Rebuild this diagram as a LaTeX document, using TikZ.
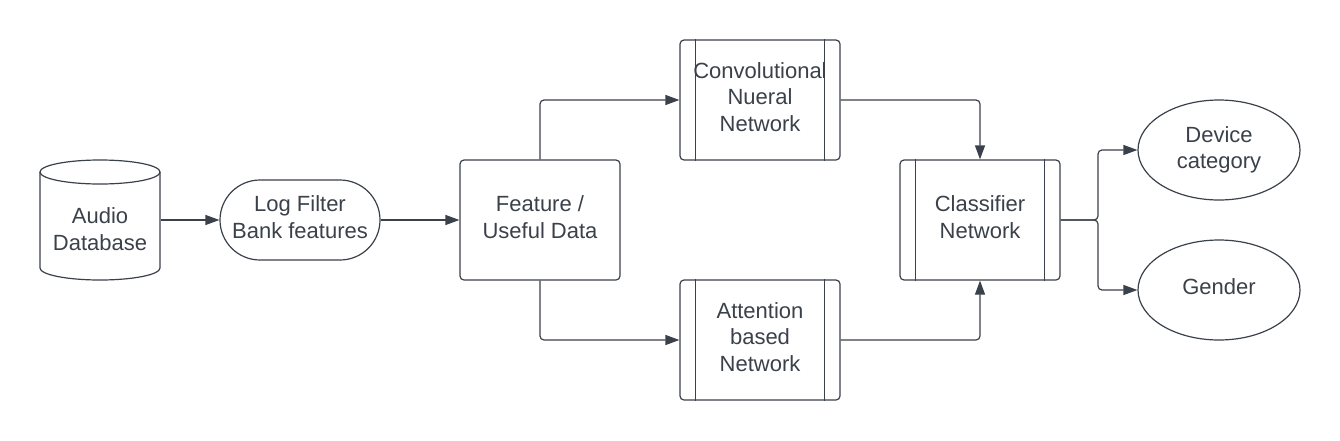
\documentclass[tikz,border=0pt]{standalone}
\usepackage{fontspec}
\setmainfont{Liberation Sans}
\usetikzlibrary{arrows.meta,shapes.geometric,calc,backgrounds}
\definecolor{ink}{HTML}{3A414A}
\begin{document}
\begin{tikzpicture}[x=1pt,y=-1pt,line width=1.2pt,
  txt/.style={font=\fontsize{22}{26.5}\selectfont,text=ink,align=center,inner sep=0pt},
  raise/.style={text depth=6pt},
  box/.style={txt,draw=ink,rounded corners=4pt,minimum width=160pt,minimum height=120pt},
  proc/.style={box},
  term/.style={txt,draw=ink,rounded corners=40pt,minimum width=160pt,minimum height=80pt},
  outp/.style={txt,draw=ink,ellipse,minimum width=162pt,minimum height=100pt},
  side/.style={draw=ink,line width=1.2pt},
  arr/.style={draw=ink,-{Triangle[length=14pt,width=10pt]},rounded corners=4pt}]
\path[use as bounding box] (0,0) rectangle (1340,440);
% database cylinder
\node[minimum width=120pt,minimum height=120pt,inner sep=0pt] (db) at (100,220) {};
\draw[ink] (100,172) ellipse [x radius=60pt,y radius=12pt];
\draw[ink] (40,172) -- (40,268) arc[start angle=180,end angle=360,x radius=60pt,y radius=12pt] -- (160,172);
\node[txt] (dbtext) at (100,229) {Audio\\Database};
% nodes
\node[term,raise] (lfb) at (300,220) {Log Filter\\Bank features};
\node[box,raise] (feat) at (540,220) {Feature /\\Useful Data};
\node[proc,raise] (cnn) at (760,100) {Convolutional\\Nueral\\Network};
\node[proc,raise] (att) at (760,340) {Attention\\based\\Network};
\node[proc,raise] (cls) at (980,220) {Classifier\\Network};
\node[outp] (dev) at (1219,150) {Device\\category};
\node[outp,raise] (gen) at (1219,290) {Gender};
\begin{scope}[on background layer]
  \foreach \n in {cnn,att,cls}{
    \draw[side] ([xshift=16pt]\n.north west) -- ([xshift=16pt]\n.south west);
    \draw[side] ([xshift=-16pt]\n.north east) -- ([xshift=-16pt]\n.south east);
  }
\end{scope}
\coordinate (split) at (1098,220);
% connectors
\draw[arr] (db.east) -- (lfb.west);
\draw[arr] (lfb.east) -- (feat.west);
\draw[arr] (feat.north) |- (cnn.west);
\draw[arr] (feat.south) |- (att.west);
\draw[arr] (cnn.east) -| (cls.north);
\draw[arr] (att.east) -| (cls.south);
\draw[arr] (cls.east) -- (split) |- (dev.west);
\draw[arr] (cls.east) -- (split) |- (gen.west);
\end{tikzpicture}
\end{document}
